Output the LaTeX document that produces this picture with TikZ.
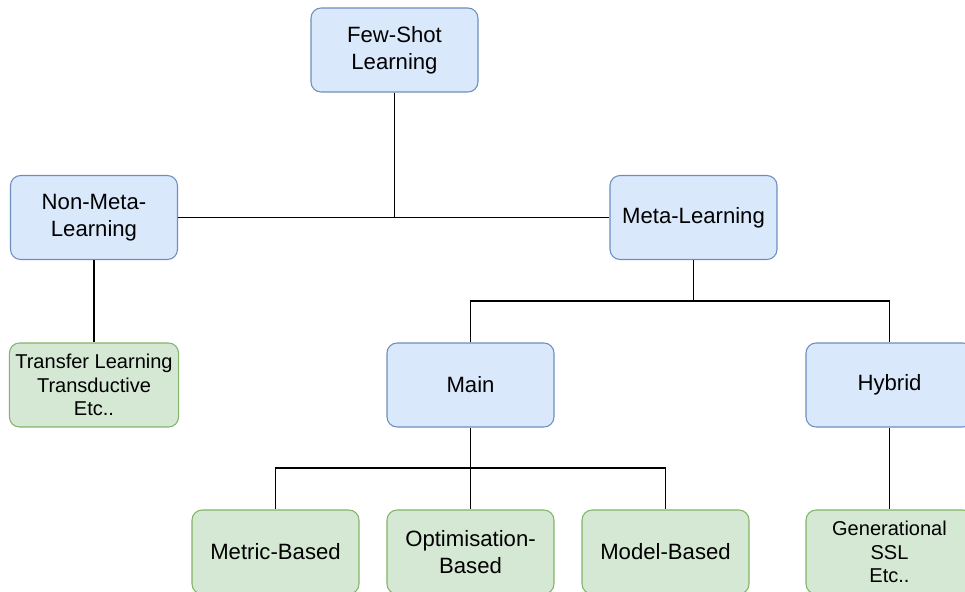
\documentclass[tikz,border=0pt]{standalone}
\usepackage{fontspec}
\setmainfont{Liberation Sans}
\tikzset{
    box/.style={draw, rounded corners=0.2cm, line width=0.6pt, minimum width=3.34cm,
        minimum height=1.68cm, align=center, font=\fontsize{12.6}{15.3}\selectfont},
    bluebox/.style={box, fill=boxblue, draw=edgeblue},
    greenbox/.style={box, fill=boxgreen, draw=edgegreen},
    small/.style={font=\fontsize{11.4}{13.3}\selectfont},
    link/.style={line width=0.6pt}
}
\definecolor{boxblue}{HTML}{DAE8FC}
\definecolor{edgeblue}{HTML}{6C8EBF}
\definecolor{boxgreen}{HTML}{D5E8D4}
\definecolor{edgegreen}{HTML}{82B366}
\begin{document}
\begin{tikzpicture}[x=0.02cm, y=-0.02cm]
    \useasboundingbox (0,0) rectangle (965,592);

    % Top
    \node[bluebox] (fsl) at (394.5, 50) {Few-Shot\\Learning};

    % Second level
    \node[bluebox] (nml) at (94, 217.5) {Non-Meta-\\Learning};
    \node[bluebox] (ml) at (693.5, 217.5) {Meta-Learning};

    % Third level
    \node[greenbox, small] (tl) at (94, 385) {Transfer Learning\\Transductive\\Etc..};
    \node[bluebox] (main) at (470.5, 385) {Main};
    \node[bluebox] (hyb) at (889.5, 385) {Hybrid};

    % Bottom level
    \node[greenbox] (mb) at (275.5, 552) {Metric-Based};
    \node[greenbox] (ob) at (470.5, 552) {Optimisation-\\Based};
    \node[greenbox] (modb) at (665.5, 552) {Model-Based};
    \node[greenbox, small] (gen) at (889.5, 552) {Generational\\SSL\\Etc..};

    % Junctions
    \coordinate (mlj) at (693.5, 301);
    \coordinate (mainj) at (470.5, 468);

    % Connections
    \draw[link] (nml) -- (ml);
    \draw[link] (fsl) -- (fsl |- ml);
    \draw[link] (nml) -- (tl);
    \draw[link] (ml) -- (mlj);
    \draw[link] (main) |- (mlj) -| (hyb);
    \draw[link] (main) -- (ob);
    \draw[link] (mb) |- (mainj) -| (modb);
    \draw[link] (hyb) -- (gen);

\end{tikzpicture}
\end{document}
